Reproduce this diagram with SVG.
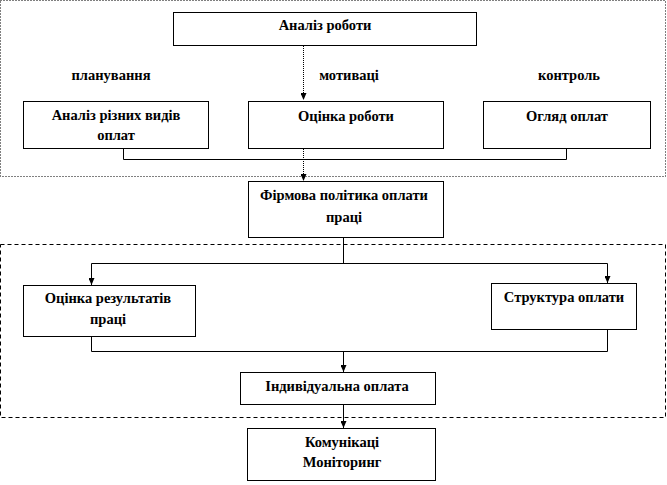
<svg xmlns="http://www.w3.org/2000/svg" width="667" height="485" viewBox="0 0 667 485">
<style>
.box{fill:#fff;stroke:#000;stroke-width:1}
.t{font-weight:bold;font-size:14.5px;fill:#000;text-anchor:middle}
.c{fill:none;stroke:#000;stroke-width:1}
.dot{stroke-dasharray:1 1}
.frame1{fill:none;stroke:#000;stroke-width:1;stroke-dasharray:1 2}
.frame2{fill:none;stroke:#000;stroke-width:1;stroke-dasharray:4 3}
</style>
<defs>
<marker id="ah" viewBox="0 0 7 6" refX="7" refY="3" markerWidth="7" markerHeight="6" markerUnits="userSpaceOnUse" orient="auto">
<path d="M0,0 L7,3 L0,6 Z" fill="#000"/>
</marker>
</defs>
<rect class="frame1" x="0.5" y="0.5" width="665" height="176"/>
<rect class="frame2" x="0.5" y="244.5" width="665" height="173"/>
<g id="connectors">
<path class="c dot" d="M303.5,46 V100" marker-end="url(#ah)"/>
<path class="c" d="M123.5,149 V159.5 H566.5 V149"/>
<path class="c dot" d="M303.5,149 V181" marker-end="url(#ah)"/>
<path class="c" d="M343.5,238 V263.5"/>
<path class="c" d="M91.5,263.5 H607.5"/>
<path class="c" d="M91.5,263.5 V285" marker-end="url(#ah)"/>
<path class="c" d="M607.5,263.5 V283" marker-end="url(#ah)"/>
<path class="c" d="M91.5,337 V351.5 H607.5 V330"/>
<path class="c" d="M343.5,351.5 V372" marker-end="url(#ah)"/>
<path class="c" d="M343.5,405 V428" marker-end="url(#ah)"/>
</g>
<g font-family="'Liberation Serif', 'Times New Roman', serif">
<g id="n_analiz_roboty">
<rect class="box" x="173.5" y="12.5" width="303" height="33"/>
<text class="t" x="325" y="30">Аналіз роботи</text>
</g>
<g id="l_planuvannia"><text class="t" x="111" y="80">планування</text></g>
<g id="l_motyvatsii"><text class="t" x="349" y="80">мотиваці</text></g>
<g id="l_kontrol"><text class="t" x="569" y="80">контроль</text></g>
<g id="n_analiz_riznykh">
<rect class="box" x="23.5" y="101.5" width="185" height="47"/>
<text class="t" x="116" y="120">Аналіз різних видів</text>
<text class="t" x="116" y="140">оплат</text>
</g>
<g id="n_otsinka_roboty">
<rect class="box" x="248.5" y="101.5" width="195" height="47"/>
<text class="t" x="346" y="121">Оцінка роботи</text>
</g>
<g id="n_ohliad_oplat">
<rect class="box" x="483.5" y="101.5" width="167" height="47"/>
<text class="t" x="567" y="121">Огляд оплат</text>
</g>
<g id="n_firmova">
<rect class="box" x="248.5" y="181.5" width="195" height="56"/>
<text class="t" x="344" y="200">Фірмова політика оплати</text>
<text class="t" x="344" y="222">праці</text>
</g>
<g id="n_otsinka_rezultativ">
<rect class="box" x="23.5" y="285.5" width="172" height="51"/>
<text class="t" x="108" y="303">Оцінка результатів</text>
<text class="t" x="108" y="324">праці</text>
</g>
<g id="n_struktura">
<rect class="box" x="491.5" y="283.5" width="145" height="46"/>
<text class="t" x="564" y="302">Структура  оплати</text>
</g>
<g id="n_indyvidualna">
<rect class="box" x="240.5" y="372.5" width="195" height="32"/>
<text class="t" x="337" y="391">Індивідуальна  оплата</text>
</g>
<g id="n_komunikatsii">
<rect class="box" x="247.5" y="428.5" width="188" height="52"/>
<text class="t" x="342" y="447">Комунікаці</text>
<text class="t" x="342" y="467">Моніторинг</text>
</g>
</g>
</svg>
